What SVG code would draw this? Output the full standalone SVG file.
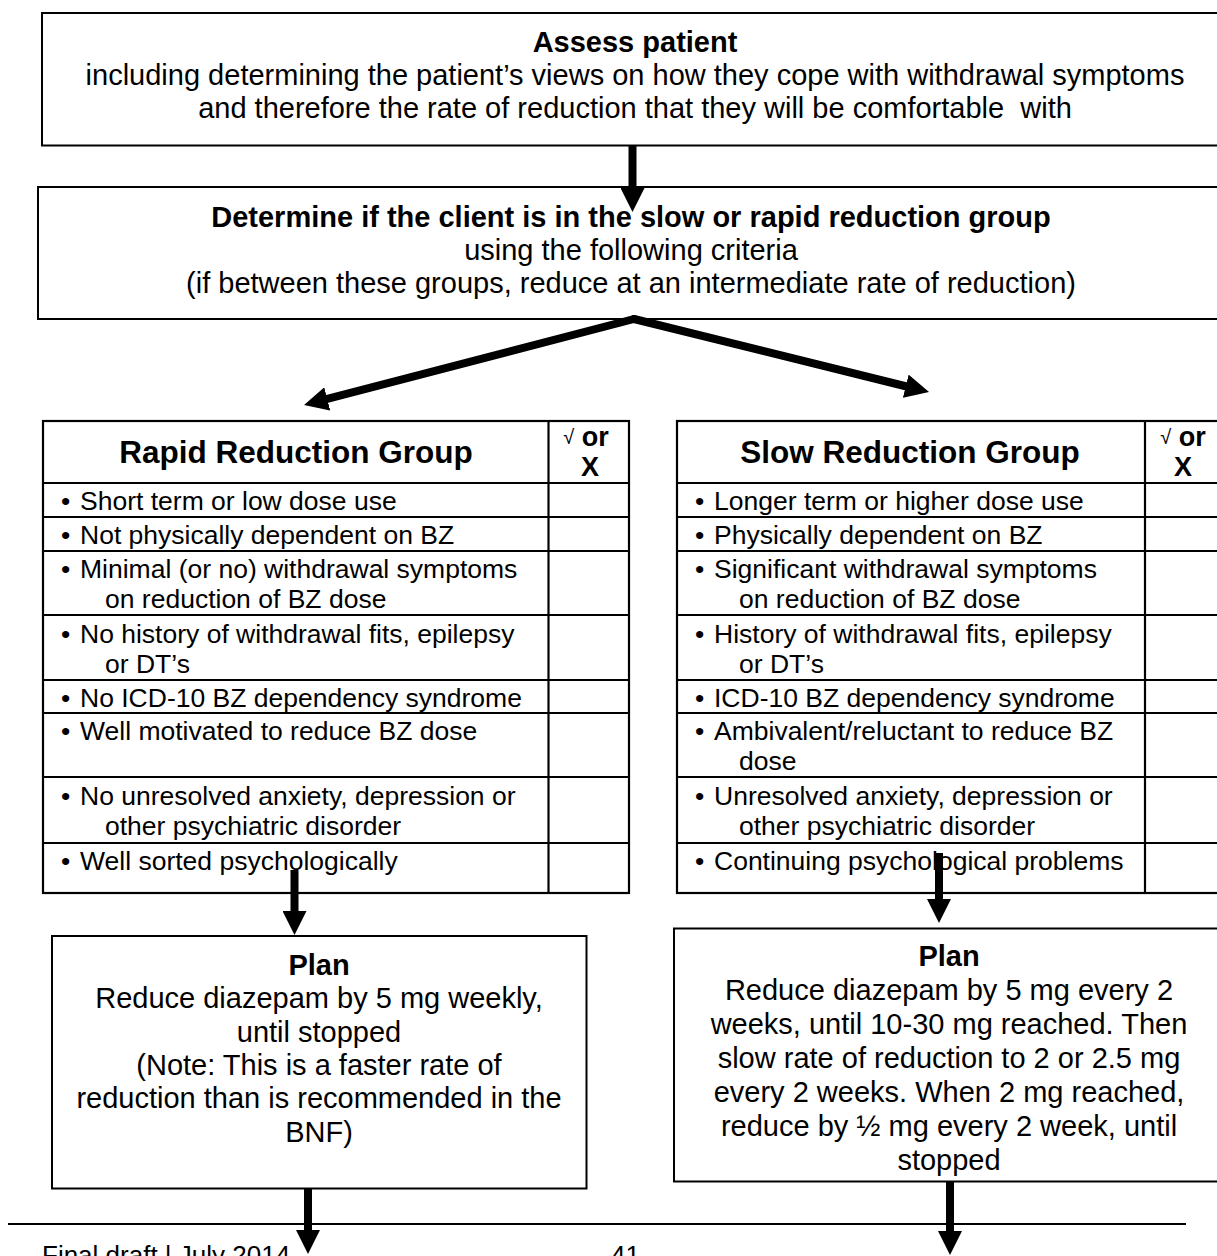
<svg xmlns="http://www.w3.org/2000/svg" width="1217" height="1256" viewBox="0 0 1217 1256">
<style>
text{font-family:"Liberation Sans",Arial,sans-serif;fill:#000}
.box{fill:#fff;stroke:#000;stroke-width:2}
.tl{fill:none;stroke:#000;stroke-width:2.2}
.c{text-anchor:middle}
.h1{font-size:29px}
.b{font-weight:bold}
.row{font-size:26.5px}
.hdr{font-size:31.5px;font-weight:bold}
.chk{font-size:27px;font-weight:bold}
.plan{font-size:29px}
.conn{stroke:#000;stroke-width:8;fill:none}
.foot{font-size:26px}
</style>
<defs>
<marker id="ah" markerUnits="userSpaceOnUse" markerWidth="24" markerHeight="24" viewBox="0 0 24 24" refX="1" refY="12" orient="auto">
<path d="M0 0 L24 12 L0 24 Z" fill="#000"/>
</marker>
</defs>
<rect width="1217" height="1256" fill="#fff"/>

<g id="assess">
<rect class="box" x="42" y="13" width="1200" height="132.5"/>
<text class="h1 c b" x="635" y="52">Assess patient</text>
<text class="h1 c" x="635" y="85">including determining the patient’s views on how they cope with withdrawal symptoms</text>
<text class="h1 c" x="635" y="118" xml:space="preserve">and therefore the rate of reduction that they will be comfortable  with</text>
</g>

<g id="determine">
<rect class="box" x="38" y="187" width="1200" height="132"/>
<text class="h1 c b" x="631" y="227">Determine if the client is in the slow or rapid reduction group</text>
<text class="h1 c" x="631" y="260">using the following criteria</text>
<text class="h1 c" x="631" y="293">(if between these groups, reduce at an intermediate rate of reduction)</text>
</g>

<g id="rapid-table">
<rect class="tl" x="43" y="421" width="586" height="472"/>
<line class="tl" x1="548.5" y1="421" x2="548.5" y2="893"/>
<line class="tl" x1="43" y1="483" x2="629" y2="483"/>
<line class="tl" x1="43" y1="517" x2="629" y2="517"/>
<line class="tl" x1="43" y1="551" x2="629" y2="551"/>
<line class="tl" x1="43" y1="615" x2="629" y2="615"/>
<line class="tl" x1="43" y1="680" x2="629" y2="680"/>
<line class="tl" x1="43" y1="713" x2="629" y2="713"/>
<line class="tl" x1="43" y1="777" x2="629" y2="777"/>
<line class="tl" x1="43" y1="843" x2="629" y2="843"/>
<text class="hdr c" x="296" y="463">Rapid Reduction Group</text>
<text class="chk c" x="586" y="446"><tspan font-weight="normal" font-size="20" dy="-2">√</tspan><tspan dy="2"> or</tspan></text>
<text class="chk c" x="590" y="476">X</text>
<g class="row">
<text x="61" y="510">•</text><text x="80" y="510">Short term or low dose use</text>
<text x="61" y="544">•</text><text x="80" y="544">Not physically dependent on BZ</text>
<text x="61" y="578">•</text><text x="80" y="578">Minimal (or no) withdrawal symptoms</text>
<text x="105" y="608">on reduction of BZ dose</text>
<text x="61" y="643">•</text><text x="80" y="643">No history of withdrawal fits, epilepsy</text>
<text x="105" y="673">or DT’s</text>
<text x="61" y="707">•</text><text x="80" y="707">No ICD-10 BZ dependency syndrome</text>
<text x="61" y="740">•</text><text x="80" y="740">Well motivated to reduce BZ dose</text>
<text x="61" y="805">•</text><text x="80" y="805">No unresolved anxiety, depression or</text>
<text x="105" y="835">other psychiatric disorder</text>
<text x="61" y="870">•</text><text x="80" y="870">Well sorted psychologically</text>
</g>
</g>

<g id="slow-table">
<rect class="tl" x="677" y="421" width="560" height="472"/>
<line class="tl" x1="1145" y1="421" x2="1145" y2="893"/>
<line class="tl" x1="677" y1="483" x2="1237" y2="483"/>
<line class="tl" x1="677" y1="517" x2="1237" y2="517"/>
<line class="tl" x1="677" y1="551" x2="1237" y2="551"/>
<line class="tl" x1="677" y1="615" x2="1237" y2="615"/>
<line class="tl" x1="677" y1="680" x2="1237" y2="680"/>
<line class="tl" x1="677" y1="713" x2="1237" y2="713"/>
<line class="tl" x1="677" y1="777" x2="1237" y2="777"/>
<line class="tl" x1="677" y1="843" x2="1237" y2="843"/>
<text class="hdr c" x="910" y="463">Slow Reduction Group</text>
<text class="chk c" x="1183" y="446"><tspan font-weight="normal" font-size="20" dy="-2">√</tspan><tspan dy="2"> or</tspan></text>
<text class="chk c" x="1183" y="476">X</text>
<g class="row">
<text x="695" y="510">•</text><text x="714" y="510">Longer term or higher dose use</text>
<text x="695" y="544">•</text><text x="714" y="544">Physically dependent on BZ</text>
<text x="695" y="578">•</text><text x="714" y="578">Significant withdrawal symptoms</text>
<text x="739" y="608">on reduction of BZ dose</text>
<text x="695" y="643">•</text><text x="714" y="643">History of withdrawal fits, epilepsy</text>
<text x="739" y="673">or DT’s</text>
<text x="695" y="707">•</text><text x="714" y="707">ICD-10 BZ dependency syndrome</text>
<text x="695" y="740">•</text><text x="714" y="740">Ambivalent/reluctant to reduce BZ</text>
<text x="739" y="770">dose</text>
<text x="695" y="805">•</text><text x="714" y="805">Unresolved anxiety, depression or</text>
<text x="739" y="835">other psychiatric disorder</text>
<text x="695" y="870">•</text><text x="714" y="870">Continuing psychological problems</text>
</g>
</g>

<g id="rapid-plan">
<rect class="box" x="52" y="936" width="534.5" height="252.5" stroke-width="2.5"/>
<g class="plan c">
<text class="b" x="319" y="975">Plan</text>
<text x="319" y="1008">Reduce diazepam by 5 mg weekly,</text>
<text x="319" y="1042">until stopped</text>
<text x="319" y="1075">(Note: This is a faster rate of</text>
<text x="319" y="1108">reduction than is recommended in the</text>
<text x="319" y="1142">BNF)</text>
</g>
</g>

<g id="slow-plan">
<rect class="box" x="674" y="928.5" width="560" height="253" stroke-width="2.5"/>
<g class="plan c">
<text class="b" x="949" y="966">Plan</text>
<text x="949" y="1000">Reduce diazepam by 5 mg every 2</text>
<text x="949" y="1034">weeks, until 10-30 mg reached. Then</text>
<text x="949" y="1068">slow rate of reduction to 2 or 2.5 mg</text>
<text x="949" y="1102">every 2 weeks. When 2 mg reached,</text>
<text x="949" y="1136">reduce by ½ mg every 2 week, until</text>
<text x="949" y="1170">stopped</text>
</g>
</g>

<g id="footer">
<line x1="8" y1="1224" x2="1186" y2="1224" stroke="#000" stroke-width="2"/>
<text class="foot" x="42" y="1264">Final draft | July 2014</text>
<text class="foot" x="611" y="1264">41</text>
</g>

<g id="connectors">
<line class="conn" x1="632.5" y1="145" x2="632.5" y2="189" marker-end="url(#ah)"/>
<line class="conn" x1="634" y1="319" x2="326.3" y2="399.2" marker-end="url(#ah)" stroke-linecap="round"/>
<line class="conn" x1="634" y1="319" x2="906.7" y2="386.5" marker-end="url(#ah)" stroke-linecap="round"/>
<line class="conn" x1="294.5" y1="870" x2="294.5" y2="912" marker-end="url(#ah)"/>
<line class="conn" x1="939" y1="853" x2="939" y2="900" marker-end="url(#ah)"/>
<line class="conn" x1="308" y1="1188" x2="308" y2="1231" marker-end="url(#ah)"/>
<line class="conn" x1="950" y1="1182" x2="950" y2="1232" marker-end="url(#ah)"/>
</g>
</svg>
